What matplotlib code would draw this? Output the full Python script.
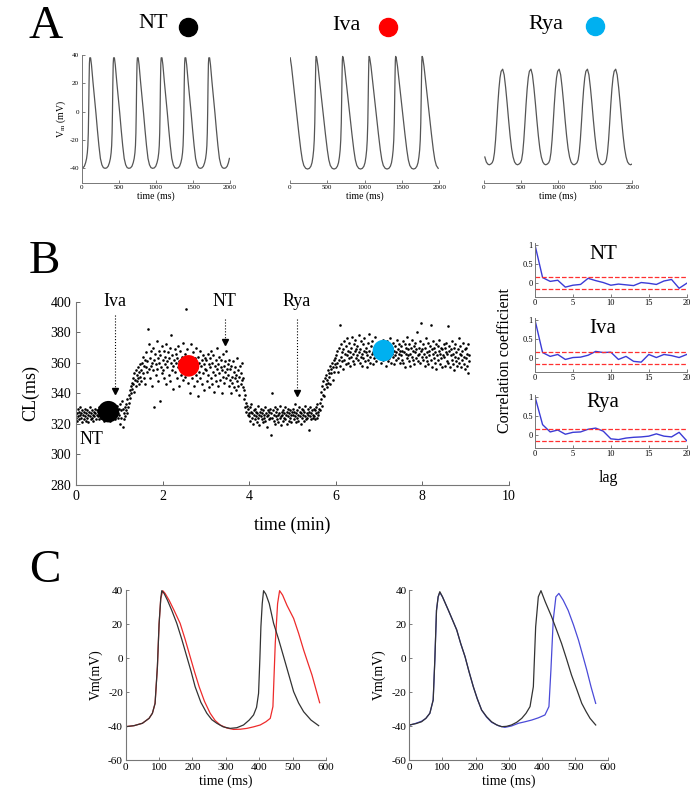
import numpy as np
import matplotlib
matplotlib.use("Agg")
import matplotlib.pyplot as plt
from matplotlib.lines import Line2D

plt.rcParams['font.family'] = ['Liberation Serif', 'DejaVu Serif']
plt.rcParams['mathtext.fontset'] = 'stix'
plt.rcParams['axes.unicode_minus'] = False

W, H = 695, 799

def fx(x):
    return x / W

def fy(y):
    return 1 - y / H

def box(x0, y0, x1, y1):
    # pixel box -> figure fraction [left, bottom, width, height]
    return [x0 / W, 1 - y1 / H, (x1 - x0) / W, (y1 - y0) / H]

# ---------------- panel A : simulated AP trains ----------------
a_names = ['NT', 'Iva', 'Rya']
a_colors = ['black', '#ff0000', '#00b0f0']

# one cycle, time relative to the peak (ms) and voltage (mV)
nt_cycle_t = [0, 8, 20, 40, 60, 80, 100, 120, 140, 160, 180, 202, 225, 245, 262, 275, 285, 292, 298, 303, 308, 313, 318]
nt_cycle_v = [38, 38, 33, 21, 10, -1, -13, -24, -33, -37.5, -39.5, -40, -39.7, -38.5, -36, -33, -29, -24, -15, 0, 20, 34, 38]
nt_peaks = [-209, 112, 433, 754, 1075, 1396, 1717, 2038]

iva_cycle_t = [0, 8, 25, 50, 75, 100, 125, 150, 170, 190, 215, 240, 265, 285, 300, 312, 322, 330, 337, 342, 347, 351, 355]
iva_cycle_v = [39, 38, 32, 20, 8, -4, -16, -27, -34, -38, -40, -40.5, -40, -38.5, -36, -32, -27, -20, -8, 8, 25, 36, 39]
iva_peaks = [-5, 350, 705, 1060, 1415, 1770]

rya_cycle_t = [0, 20, 40, 60, 80, 100, 120, 140, 160, 180, 200, 220, 240, 255, 270, 285, 300, 315, 330, 345, 360, 381]
rya_cycle_v = [30, 26, 17, 6, -6, -17, -26, -32, -35.5, -37, -37.5, -37, -36, -34, -29, -20, -8, 5, 16, 24, 28.5, 30]
rya_peaks = [-129, 252, 633, 1014, 1395, 1776]

a_traces = [(nt_cycle_t, nt_cycle_v, nt_peaks),
            (iva_cycle_t, iva_cycle_v, iva_peaks),
            (rya_cycle_t, rya_cycle_v, rya_peaks)]
a_boxes = [(81.7, 55, 230, 182.5), (290, 55, 439.3, 182.5), (484, 55, 632.3, 182.5)]
a_title_xy = [(153, 24), (346, 25), (546, 25)]
a_dot_xy = [(188, 27), (388, 27), (595, 26)]

# ---------------- panel B : cycle length over time ----------------
cl_step = 0.0125  # min between plotted beats
cl_blocks = [
    [324, 327, 322, 330, 325, 328, 323, 326, 331, 324, 327, 321, 329, 326, 323, 328, 325, 330, 322, 327,
     324, 329, 326, 321, 328, 325, 331, 323, 327, 324, 329, 326, 322, 328, 325, 330, 327, 323, 326, 329],
    [325, 328, 323, 331, 326, 329, 324, 327, 332, 325, 328, 322, 330, 327, 324, 329, 326, 331, 323, 328,
     325, 330, 327, 322, 329, 326, 333, 324, 328, 325, 331, 327, 323, 329, 326, 332, 328, 324, 327, 330],
    [326, 333, 320, 329, 324, 335, 318, 330, 327, 323, 331, 325, 329, 333, 327, 336, 331, 339, 334, 342,
     337, 345, 340, 347, 343, 350, 346, 353, 341, 349, 355, 345, 352, 348, 357, 350, 346, 354, 359, 351],
    [355, 348, 360, 353, 364, 350, 358, 362, 346, 357, 367, 354, 361, 382, 356, 372, 350, 363, 358, 368,
     345, 360, 355, 370, 362, 331, 366, 352, 359, 374, 356, 363, 348, 368, 360, 335, 365, 357, 371, 353],
    [362, 355, 368, 350, 364, 359, 372, 346, 361, 357, 367, 352, 363, 370, 348, 360, 378, 355, 365, 358,
     343, 362, 369, 354, 360, 366, 350, 363, 357, 371, 345, 361, 356, 368, 352, 364, 359, 373, 349, 362],
    [358, 366, 351, 362, 395, 355, 369, 347, 360, 357, 364, 340, 358, 372, 350, 361, 355, 367, 345, 359,
     363, 352, 370, 348, 357, 364, 338, 360, 354, 368, 350, 358, 362, 346, 365, 353, 359, 342, 363, 356],
    [355, 362, 348, 366, 352, 359, 344, 363, 357, 350, 368, 346, 360, 354, 365, 341, 358, 352, 362, 348,
     356, 370, 345, 359, 353, 364, 349, 357, 362, 340, 355, 366, 351, 358, 347, 361, 354, 368, 350, 356],
    [352, 359, 345, 362, 349, 356, 340, 358, 351, 347, 361, 344, 354, 350, 357, 342, 352, 348, 363, 345,
     355, 339, 351, 358, 346, 353, 349, 360, 344, 350, 342, 336, 339, 331, 334, 328, 332, 326, 330, 327],
    [325, 331, 322, 328, 333, 324, 327, 320, 329, 326, 323, 330, 325, 328, 321, 327, 332, 324, 326, 319,
     328, 325, 330, 323, 327, 321, 329, 326, 324, 331, 322, 327, 325, 318, 329, 326, 323, 328, 324, 330],
    [313, 327, 340, 324, 329, 322, 326, 331, 320, 328, 325, 323, 330, 326, 321, 327, 324, 332, 325, 319,
     328, 326, 322, 329, 324, 327, 331, 323, 326, 320, 328, 325, 330, 322, 327, 324, 329, 326, 321, 328],
    [326, 330, 323, 328, 325, 333, 321, 327, 324, 329, 326, 322, 331, 325, 328, 320, 327, 330, 324, 326,
     329, 322, 328, 325, 332, 323, 327, 324, 330, 326, 316, 328, 325, 331, 323, 327, 329, 324, 326, 330],
    [325, 329, 323, 331, 327, 324, 333, 328, 326, 330, 334, 329, 336, 341, 332, 345, 339, 348, 343, 338,
     350, 346, 352, 344, 349, 355, 347, 353, 351, 358, 346, 356, 353, 360, 349, 357, 362, 354, 359, 363],
    [357, 365, 360, 368, 354, 362, 370, 358, 385, 364, 372, 361, 367, 356, 369, 374, 362, 366, 359, 371,
     365, 376, 360, 368, 363, 373, 358, 367, 370, 364, 377, 361, 366, 372, 359, 368, 375, 363, 369, 365],
    [371, 362, 367, 378, 360, 369, 364, 374, 358, 366, 372, 363, 368, 376, 361, 367, 370, 357, 365, 373,
     362, 368, 379, 364, 360, 371, 366, 374, 359, 367, 363, 370, 365, 377, 361, 368, 372, 364, 369, 366],
    [368, 363, 372, 366, 360, 370, 365, 375, 362, 368, 371, 364, 358, 369, 366, 374, 361, 367, 372, 363,
     369, 376, 360, 366, 370, 364, 373, 359, 368, 365, 371, 362, 367, 375, 363, 369, 366, 372, 360, 368],
    [365, 371, 362, 368, 374, 360, 367, 372, 357, 366, 370, 363, 377, 365, 369, 361, 372, 366, 358, 370,
     364, 375, 362, 368, 371, 359, 367, 373, 363, 369, 380, 365, 361, 370, 366, 374, 360, 368, 386, 364],
    [369, 362, 372, 366, 358, 370, 364, 376, 361, 367, 373, 359, 368, 365, 371, 385, 362, 369, 357, 366,
     374, 363, 370, 360, 367, 372, 356, 365, 371, 362, 368, 375, 359, 366, 370, 363, 369, 357, 365, 372],
    [364, 370, 358, 367, 373, 361, 366, 384, 360, 368, 371, 357, 365, 369, 362, 374, 359, 366, 370, 355,
     364, 372, 361, 367, 358, 369, 363, 376, 360, 366, 371, 357, 365, 368, 362, 373, 359, 364, 369, 356],
    [363, 370, 358, 366, 353, 372, 361, 365],
]
mean_t = [0.75, 2.6, 7.1]
mean_cl = [328, 358, 368]
arrow_x = [0.9, 3.44, 5.1]
arrow_top = [391, 389, 389]
arrow_tip = [340, 372, 339]
arrow_labels = ['Iva', 'NT', 'Rya']

# ---------------- panel B right : autocorrelation ----------------
lags = list(range(21))
acf_nt = [1, 0.15, 0.05, 0.08, -0.1, -0.05, -0.03, 0.13, 0.07, 0.02, -0.05,
          -0.02, -0.04, -0.06, 0.02, 0.0, -0.03, 0.06, 0.1, -0.13, 0.0]
acf_iva = [1, 0.15, 0.05, 0.1, -0.03, 0.02, 0.03, 0.08, 0.18, 0.15, 0.16,
           -0.03, 0.05, -0.08, -0.1, 0.1, 0.02, 0.1, 0.07, 0.02, 0.1]
acf_rya = [1, 0.27, 0.08, 0.13, 0.02, 0.07, 0.08, 0.15, 0.18, 0.1, -0.1,
           -0.12, -0.08, -0.06, -0.05, -0.03, 0.03, -0.03, -0.05, 0.07, -0.15]
acf_bound = 0.16
acf_sets = [('NT', acf_nt, 283.3, 254), ('Iva', acf_iva, 358.3, 328), ('Rya', acf_rya, 435, 402)]

# ---------------- panel C : single beats compared ----------------
cl_black_t = [0, 25, 50, 70, 80, 88, 95, 100, 105, 108, 115, 125, 138, 153, 168, 183, 196, 208, 225, 243, 258,
              273, 292, 313, 333, 353, 370, 383, 392, 398, 402, 405, 409, 413, 420, 430, 443, 458, 473, 488, 503,
              518, 533, 555, 578]
cl_black_v = [-40.4, -39.8, -38.4, -35.5, -32.5, -26.7, -5, 20, 35, 39.6, 38, 34, 28, 20.4, 11, 0.8, -8, -16.9,
              -26, -32.5, -36.3, -38.4, -40.5, -41.4, -41, -39.4, -36.5, -33.5, -29, -20.8, 0, 18.4, 32, 39.6,
              37.5, 32, 20.4, 11, 0.8, -9.5, -19.8, -26.5, -31.6, -36.5, -39.8]
cl_red_t = [0, 25, 50, 70, 80, 88, 95, 100, 105, 111, 118, 130, 145, 163, 178, 193, 206, 220, 236, 253, 268,
            283, 303, 323, 343, 363, 383, 403, 420, 433, 441, 448, 455, 461, 470, 483, 503, 518, 533, 546, 558,
            570, 581]
cl_red_v = [-40.4, -39.8, -38.4, -35.5, -32.5, -26.7, -5, 20, 35, 39.6, 38, 34, 28, 20.4, 11, 0.8, -8, -16.9,
            -25.5, -32.5, -36.8, -39.4, -41.2, -42, -41.9, -41.4, -40.5, -39.4, -37.5, -35.5, -28.6, 8.6, 32,
            39.6, 37, 31, 23.3, 14.5, 4.7, -3, -10, -18.5, -26.3]
cr_black_t = [0, 20, 37, 50, 62, 72, 77, 82, 87, 92, 100, 118, 130, 143, 155, 168, 180, 193, 205, 218, 233, 248,
              263, 278, 293, 308, 324, 339, 352, 364, 374, 381, 389, 397, 410, 429, 444, 459, 474, 489, 505, 520,
              533, 545, 562]
cr_black_v = [-39.4, -38.6, -37.5, -35.5, -32.5, -24.7, -1, 28, 36, 39, 36, 28, 22.5, 16.5, 8.5, 0.8, -8,
              -16.9, -24, -30.6, -34.5, -37.5, -39.3, -40.4, -40.2, -39.4, -37.8, -35.5, -32.5, -28.6, -16.9,
              18.4, 36, 39.6, 33, 24.3, 16.5, 8.6, -0.5, -10, -18.5, -26.7, -31.5, -35.5, -39.4]
cr_blue_t = [0, 20, 37, 50, 62, 72, 77, 82, 87, 92, 100, 118, 130, 143, 155, 168, 180, 193, 205, 218, 233, 248,
             268, 288, 308, 329, 349, 369, 389, 409, 421, 427, 434, 442, 451, 464, 479, 495, 510, 523, 535, 548,
             562]
cr_blue_v = [-39.6, -38.4, -37.2, -35.5, -32.5, -24.7, -1, 28, 36, 38.5, 36, 28, 22.5, 16.5, 8.5, 0.8, -8,
             -16.9, -24, -30.6, -34.8, -37.8, -39.8, -40.8, -40, -38.4, -37.5, -36.5, -35.2, -33.5, -28.6, -7,
             22.4, 36, 38, 34, 28, 19.5, 10.6, 1.5, -7, -17, -26.7]

fig = plt.figure(figsize=(6.95, 7.99), dpi=100)

# panel letters
for letter, (x, y) in zip(['A', 'B', 'C'], [(46, 27), (44, 262), (45, 571)]):
    fig.text(fx(x), fy(y), letter, fontsize=34, ha='center', va='center')

# ---- A
for i in range(3):
    ct, cv, peaks = a_traces[i]
    tt = np.concatenate([p + np.array(ct) for p in peaks])
    vv = np.concatenate([np.array(cv) for p in peaks])
    keep = (tt >= 0) & (tt <= 2000)
    ax = fig.add_axes(box(*a_boxes[i]))
    ax.plot(tt[keep], vv[keep], color='#555555', lw=0.9)
    ax.set_xlim(0, 2000)
    ax.set_ylim(-50, 40)
    ax.set_xticks([0, 500, 1000, 1500, 2000])
    ax.set_xlabel('time (ms)', fontsize=7, labelpad=1)
    ax.tick_params(labelsize=5, direction='in', length=2, width=0.6, color='#666666', pad=2)
    for s in ['top', 'right']:
        ax.spines[s].set_visible(False)
    for s in ['left', 'bottom']:
        ax.spines[s].set_color('#777777')
        ax.spines[s].set_linewidth(0.7)
    if i == 0:
        ax.set_yticks([-40, -20, 0, 20, 40])
        ax.set_ylabel('V$_{\\rm m}$ (mV)', fontsize=7, labelpad=1)
    else:
        ax.spines['left'].set_visible(False)
        ax.set_yticks([])
    tx, ty = a_title_xy[i]
    fig.text(fx(tx), fy(ty), a_names[i], fontsize=16, ha='center', va='center')
    dx, dy = a_dot_xy[i]
    fig.add_artist(Line2D([fx(dx)], [fy(dy)], marker='o', markersize=13, color=a_colors[i],
                          linestyle='none', transform=fig.transFigure))

# ---- B main
cl = np.concatenate([np.array(b) for b in cl_blocks])
t_min = np.arange(len(cl)) * cl_step
axB = fig.add_axes(box(76, 301.7, 509, 485))
axB.scatter(t_min, cl, s=3.5, color='black', linewidths=0)
axB.scatter(mean_t, mean_cl, s=240, color=a_colors, zorder=3, linewidths=0)
for x, top, tip, lab in zip(arrow_x, arrow_top, arrow_tip, arrow_labels):
    axB.plot([x, x], [top, tip + 2], color='black', lw=0.8, linestyle=':')
    axB.plot([x], [tip + 1.5], marker='v', color='black', markersize=4, linestyle='none')
    axB.text(x, 400, lab, fontsize=13, ha='center', va='center')
axB.text(0.36, 309.6, 'NT', fontsize=13, ha='center', va='center')
axB.set_xlim(0, 10)
axB.set_ylim(280, 400)
axB.set_xticks(range(0, 11, 2))
axB.set_yticks(range(280, 401, 20))
axB.set_xlabel('time (min)', fontsize=13, labelpad=10)
axB.set_ylabel('CL(ms)', fontsize=13, labelpad=8)
axB.tick_params(labelsize=10, direction='in', length=3, width=0.7, color='#666666')
for s in ['top', 'right']:
    axB.spines[s].set_visible(False)
for s in ['left', 'bottom']:
    axB.spines[s].set_color('#777777')

# ---- B autocorrelation
for name, vals, zero_y, title_y in acf_sets:
    unit = 38.3
    ax = fig.add_axes(box(535, zero_y - 1.05 * unit, 686.7, zero_y + 0.35 * unit))
    ax.plot(lags, vals, color='#3b3bd6', lw=1.0)
    ax.axhline(acf_bound, color='#ff3030', lw=0.9, linestyle='--')
    ax.axhline(-acf_bound, color='#ff3030', lw=0.9, linestyle='--')
    ax.set_xlim(0, 20)
    ax.set_ylim(-0.35, 1.05)
    ax.set_xticks([0, 5, 10, 15, 20])
    ax.set_yticks([0, 0.5, 1])
    ax.set_yticklabels(['0', '0.5', '1'])
    ax.tick_params(labelsize=6, direction='in', length=2, width=0.6, color='#666666', pad=1.5)
    for s in ['top', 'right']:
        ax.spines[s].set_visible(False)
    for s in ['left', 'bottom']:
        ax.spines[s].set_color('#777777')
        ax.spines[s].set_linewidth(0.7)
    fig.text(fx(603), fy(title_y), name, fontsize=15, ha='center', va='center')
fig.text(fx(505), fy(361), 'Correlation coefficient', fontsize=11.5, rotation=90, ha='center', va='center')
fig.text(fx(608), fy(478), 'lag', fontsize=11.5, ha='center', va='center')

# ---- C
c_sets = [((125.7, 590, 326, 760), (cl_black_t, cl_black_v), (cl_red_t, cl_red_v), '#ee2b2b'),
          ((409.3, 590, 608.3, 760), (cr_black_t, cr_black_v), (cr_blue_t, cr_blue_v), '#4a4ad8')]
for bx, black, other, col in c_sets:
    ax = fig.add_axes(box(*bx))
    ax.plot(other[0], other[1], color=col, lw=0.9)
    ax.plot(black[0], black[1], color='#333333', lw=0.9)
    ax.set_xlim(0, 600)
    ax.set_ylim(-60, 40)
    ax.set_xticks(range(0, 601, 100))
    ax.set_yticks(range(-60, 41, 20))
    ax.set_xlabel('time (ms)', fontsize=10, labelpad=2)
    ax.set_ylabel('Vm(mV)', fontsize=10, labelpad=4)
    ax.tick_params(labelsize=8, direction='in', length=2.5, width=0.6, color='#666666', pad=2)
    for s in ['top', 'right']:
        ax.spines[s].set_visible(False)
    for s in ['left', 'bottom']:
        ax.spines[s].set_color('#777777')
        ax.spines[s].set_linewidth(0.8)

fig.savefig('out.png', dpi=100)
